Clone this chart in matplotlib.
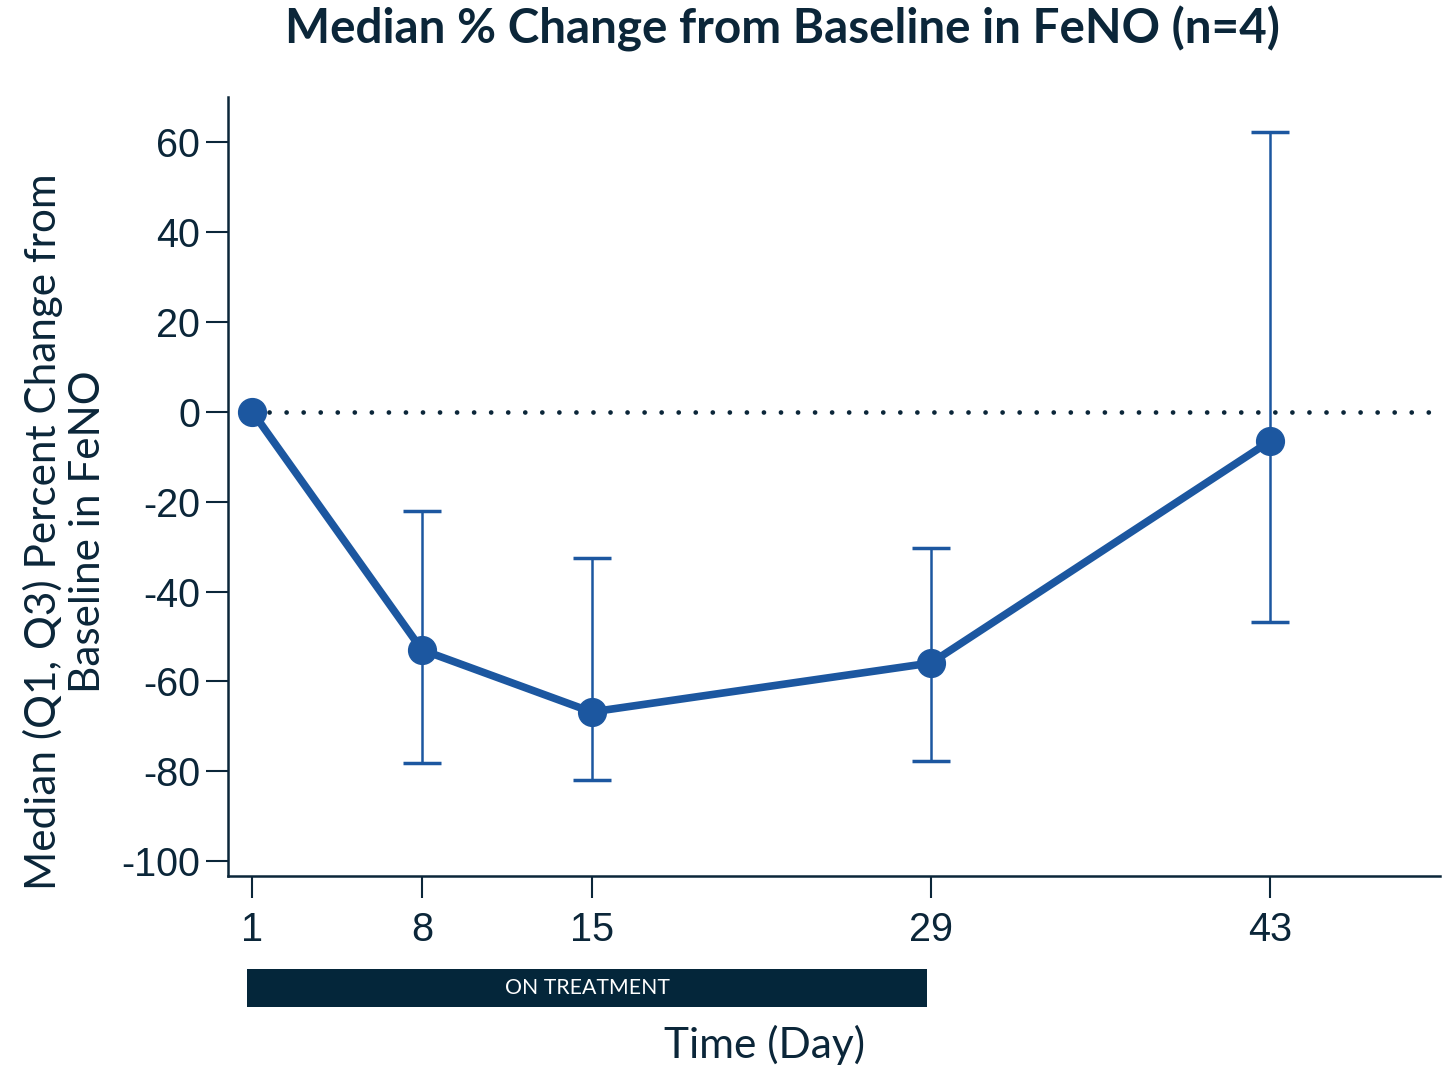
import matplotlib
matplotlib.use("Agg")
import matplotlib.pyplot as plt
import matplotlib.transforms as mtransforms
from matplotlib.patches import Rectangle
import numpy as np

# values
days = [1, 8, 15, 29, 43]
median = [0.0, -53.0, -66.8, -55.9, -6.5]
q1 = [0.0, -78.2, -82.0, -77.7, -46.8]
q3 = [0.0, -22.1, -32.6, -30.4, 62.2]
yticks = [-100, -80, -60, -40, -20, 0, 20, 40, 60]
ytick_labels = ["-100", "-80", "-60", "-40", "-20", "0", "20", "40", "60"]
treatment_days = (1, 29)

navy = "#0b2639"
blue = "#1c57a0"

plt.rcParams["axes.unicode_minus"] = False

fig = plt.figure(figsize=(14.47, 10.67), dpi=100)
ax = fig.add_axes([0.1576, 0.179, 0.8376, 0.730])

med = np.array(median)
err = np.vstack([med - np.array(q1), np.array(q3) - med])

# reference line at 0
ax.hlines(0, days[0], 50, colors=navy, linewidth=3.4, linestyles=(0, (0.01, 3.6)),
          capstyle="round", zorder=1)

# error bars (only where there is spread)
ax.errorbar(days[1:], median[1:], yerr=err[:, 1:], fmt="none", ecolor=blue,
            elinewidth=1.8, capsize=14, capthick=2.5, zorder=2)
ax.plot(days, median, color=blue, linewidth=5.5, marker="o", markersize=20,
        solid_capstyle="round", zorder=3)

ax.set_xlim(0, 50)
ax.set_ylim(-103.3, 70)
ax.set_xticks(days)
ax.set_xticklabels([str(d) for d in days])
ax.set_yticks(yticks)
ax.set_yticklabels(ytick_labels)

for s in ["top", "right"]:
    ax.spines[s].set_visible(False)
for s in ["left", "bottom"]:
    ax.spines[s].set_color(navy)
    ax.spines[s].set_linewidth(1.8)

ax.tick_params(axis="both", colors=navy, length=16, width=1.5,
               labelsize=28.5, labelfontfamily="Liberation Sans")
ax.tick_params(axis="y", pad=4)
ax.tick_params(axis="x", pad=9)

fig.text(0.045, 0.502, "Median (Q1, Q3) Percent Change from\nBaseline in FeNO",
         rotation=90, ha="center", va="center", fontsize=30.4, family="Lato",
         color=navy, linespacing=1.18)

# on-treatment bar under the x axis
trans = mtransforms.blended_transform_factory(ax.transData, ax.transAxes)
bar_x0 = treatment_days[0] - 0.2
bar_x1 = treatment_days[1] - 0.15
ax.add_patch(Rectangle((bar_x0, -0.168), bar_x1 - bar_x0, 0.049,
                       transform=trans, facecolor="#04263a", edgecolor="none",
                       clip_on=False))
ax.text((bar_x0 + bar_x1) / 2, -0.1435, "ON TREATMENT", transform=trans,
        ha="center", va="center", color="white", fontsize=15.3, family="Lato")

fig.text(0.528, 0.0206, "Time (Day)", ha="center", va="center",
         fontsize=30.5, family="Lato", color=navy)
fig.text(0.541, 0.973, "Median % Change from Baseline in FeNO (n=4)",
         ha="center", va="center", fontsize=34.3, family="Lato",
         fontweight="bold", color=navy)

fig.savefig("out.png", dpi=100)
